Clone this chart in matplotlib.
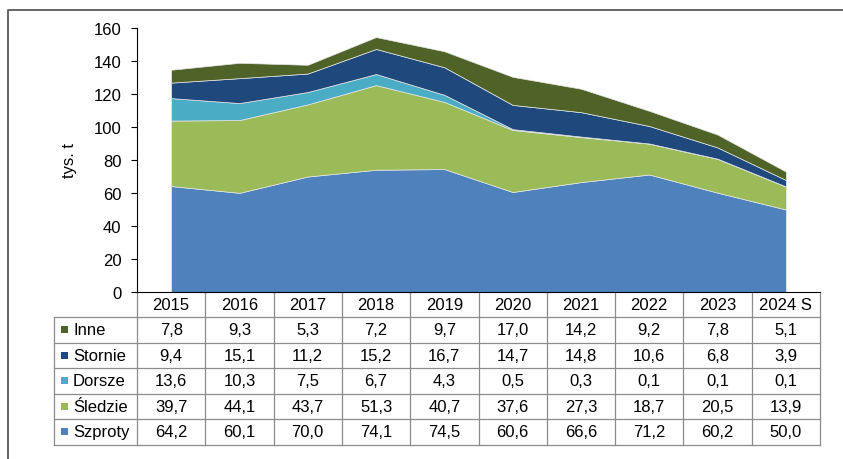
import numpy as np
import matplotlib

matplotlib.use("Agg")
import matplotlib.pyplot as plt
from matplotlib.transforms import blended_transform_factory
from matplotlib.lines import Line2D
from matplotlib.patches import Rectangle

plt.rcParams.update({"font.family": ["Liberation Sans", "DejaVu Sans"], "font.size": 12})

# --- data (tys. t) ---
years = ["2015", "2016", "2017", "2018", "2019", "2020", "2021", "2022", "2023", "2024 S"]
szproty = [64.2, 60.1, 70.0, 74.1, 74.5, 60.6, 66.6, 71.2, 60.2, 50.0]
sledzie = [39.7, 44.1, 43.7, 51.3, 40.7, 37.6, 27.3, 18.7, 20.5, 13.9]
dorsze = [13.6, 10.3, 7.5, 6.7, 4.3, 0.5, 0.3, 0.1, 0.1, 0.1]
stornie = [9.4, 15.1, 11.2, 15.2, 16.7, 14.7, 14.8, 10.6, 6.8, 3.9]
inne = [7.8, 9.3, 5.3, 7.2, 9.7, 17.0, 14.2, 9.2, 7.8, 5.1]

names = ["Szproty", "Śledzie", "Dorsze", "Stornie", "Inne"]
series = [szproty, sledzie, dorsze, stornie, inne]
colors = ["#4F81BD", "#9BBB59", "#4BACC6", "#1F497D", "#4F6228"]

W, H = 843, 460
fig = plt.figure(figsize=(W / 100, H / 100), dpi=100)
# axes box in pixels: x 137..820, y 29..293
ax = fig.add_axes([137 / W, 1 - 293 / H, 683 / W, 264 / H])

x = np.arange(len(years))
ax.stackplot(x, *series, colors=colors, edgecolor="#e6e6e6", linewidth=0.5)

ax.set_xlim(-0.5, len(years) - 0.5)
ax.set_ylim(0, 160)
ax.set_yticks(np.arange(0, 161, 20))
ax.set_xticks([])
ax.tick_params(axis="y", direction="out", length=4.3, width=0.8, pad=7, labelsize=12)
ax.set_ylabel("tys. t", fontsize=12, labelpad=12)
for s in ["top", "right"]:
    ax.spines[s].set_visible(False)
ax.spines["left"].set_color("black")
ax.spines["bottom"].set_color("black")

# --- data table below the axes ---
tr = blended_transform_factory(ax.transData, ax.transAxes)
hdr_h = 25 / 264
row_h = 25.5 / 264
lab_left = -0.5 - 82.7 / 68.3
grid = "#8c8c8c"
n = len(years)
bottom = -hdr_h - 5 * row_h

def line(xs, ys):
    ax.add_line(Line2D(xs, ys, transform=tr, color=grid, lw=0.9, clip_on=False))

for k in range(6):
    yk = -hdr_h - k * row_h
    line([lab_left, n - 0.5], [yk, yk])
for i in range(n + 1):
    line([i - 0.5, i - 0.5], [0, bottom])
line([lab_left, lab_left], [-hdr_h, bottom])

for i, yr in enumerate(years):
    ax.text(i, -hdr_h / 2, yr, transform=tr, ha="center", va="center", fontsize=12)

rows = list(zip(names, series, colors))[::-1]
for r, (nm, vals, c) in enumerate(rows):
    yc = -hdr_h - (r + 0.5) * row_h
    ax.add_patch(Rectangle((-0.5 - 76 / 68.3, yc - 3.5 / 264), 7 / 68.3, 7 / 264,
                           transform=tr, facecolor=c, edgecolor="none", clip_on=False))
    ax.text(-0.5 - 64 / 68.3, yc, nm, transform=tr, ha="left", va="center", fontsize=12)
    for i, v in enumerate(vals):
        ax.text(i, yc, f"{v:.1f}".replace(".", ","), transform=tr,
                ha="center", va="center", fontsize=12)

# outer frame (left and top visible)
fig.add_artist(Line2D([8 / W, 8 / W, 1], [0, 1 - 11 / H, 1 - 11 / H],
                      transform=fig.transFigure, color="#595959", lw=1.3))

fig.savefig("out.png", dpi=100)
